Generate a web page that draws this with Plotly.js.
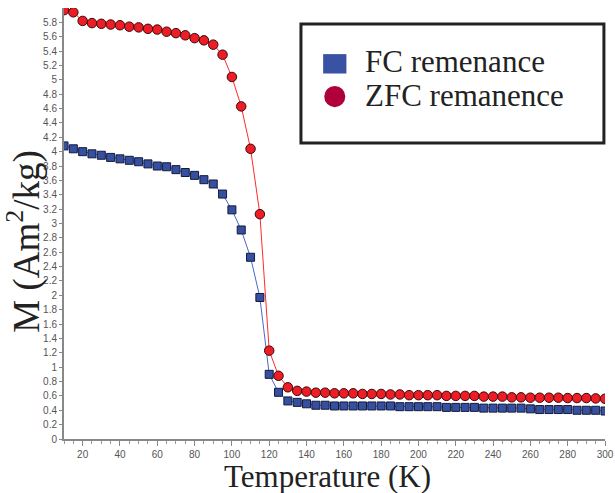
<!DOCTYPE html>
<html>
<head>
<meta charset="utf-8">
<script src="https://cdn.plot.ly/plotly-3.0.1.min.js"></script>
<style>html,body{margin:0;padding:0;background:#fff;}#chart{width:615px;height:493px;}</style>
</head>
<body>
<div id="chart"></div>
<script>
const temperature = [10,15,20,25,30,35,40,45,50,55,60,65,70,75,80,85,90,95,100,105,110,115,120,
  125,130,135,140,145,150,155,160,165,170,175,180,185,190,195,200,205,210,215,220,225,230,235,240,245,250,255,260,265,270,275,280,285,290,295,300];

const fcRemanence = [4.08,4.04,4.00,3.97,3.95,3.92,3.90,3.88,3.86,3.83,3.80,3.79,3.75,3.71,3.67,3.61,3.55,3.41,3.19,2.91,2.53,1.97,0.90,
  0.65,0.53,0.51,0.49,0.47,0.47,0.46,0.46,0.46,0.46,0.46,0.46,0.46,0.45,0.45,0.45,0.45,0.45,0.44,0.44,0.44,0.44,0.43,0.43,0.43,0.43,0.43,0.42,0.41,0.41,0.41,0.41,0.40,0.40,0.40,0.39];

const zfcRemanence = [5.97,5.94,5.82,5.79,5.78,5.77,5.76,5.74,5.73,5.71,5.70,5.67,5.65,5.62,5.58,5.55,5.49,5.35,5.04,4.63,4.04,3.13,1.23,
  0.88,0.72,0.67,0.66,0.645,0.645,0.636,0.636,0.636,0.627,0.627,0.627,0.62,0.62,0.61,0.61,0.61,0.61,0.60,0.60,0.60,0.60,0.59,0.59,0.59,0.58,0.58,0.575,0.575,0.575,0.575,0.57,0.57,0.57,0.565,0.56];

const seriesNames = ["FC remenance", "ZFC remanence"];
const xTitle = "Temperature (K)";
const yTitle = "M (Am<sup>2</sup>/kg)";
const xTickVals = [20,40,60,80,100,120,140,160,180,200,220,240,260,280,300];
const yTickVals = [0,0.2,0.4,0.6,0.8,1,1.2,1.4,1.6,1.8,2,2.2,2.4,2.6,2.8,3,3.2,3.4,3.6,3.8,4,4.2,4.4,4.6,4.8,5,5.2,5.4,5.6,5.8];

const traces = [
  {x: temperature, y: fcRemanence, name: seriesNames[0], type: 'scatter', mode: 'lines+markers',
   line: {color: '#4a68c4', width: 1},
   marker: {symbol: 'square', size: 8, color: '#3550a0', line: {color: '#141a3c', width: 1}}},
  {x: temperature, y: zfcRemanence, name: seriesNames[1], type: 'scatter', mode: 'lines+markers',
   line: {color: '#ff2a2a', width: 1},
   marker: {symbol: 'circle', size: 9.5, color: '#ee1c24', line: {color: '#3a0a0a', width: 1}}}
];

const serif = "'Liberation Serif', 'Times New Roman', serif";
const layout = {
  width: 615, height: 493,
  margin: {l: 64, r: 10, t: 8, b: 54},
  paper_bgcolor: '#fff', plot_bgcolor: '#fff',
  showlegend: false,
  font: {family: "'Liberation Sans', Arial, sans-serif", size: 10, color: '#555'},
  xaxis: {
    range: [10, 300], tickvals: xTickVals, ticks: 'outside', ticklen: 5, tickcolor: '#888', tickwidth: 1,
    minor: {dtick: 5, tick0: 0, ticks: 'outside', ticklen: 3, tickcolor: '#999'},
    showline: true, linecolor: '#888', linewidth: 2, showgrid: false, zeroline: false,
    tickfont: {size: 10, color: '#555'}
  },
  yaxis: {
    range: [0, 6], tickvals: yTickVals, ticks: 'outside', ticklen: 3, tickcolor: '#888', tickwidth: 1,
    showline: true, linecolor: '#888', linewidth: 2, showgrid: false, zeroline: false,
    tickfont: {size: 10, color: '#555'}
  },
  shapes: [
    {type: 'rect', xref: 'paper', yref: 'paper', x0: 0.438, x1: 0.998, y0: 0.687, y1: 0.963,
     line: {color: '#222', width: 3}, fillcolor: '#fff', layer: 'above'},
    {type: 'rect', xref: 'paper', yref: 'paper', x0: 0.479, x1: 0.522, y0: 0.848, y1: 0.893,
     line: {width: 0}, fillcolor: '#3a52a4', layer: 'above'},
    {type: 'circle', xref: 'paper', yref: 'paper', x0: 0.481, x1: 0.520, y0: 0.770, y1: 0.819,
     line: {width: 0}, fillcolor: '#b0003a', layer: 'above'}
  ],
  annotations: [
    {xref: 'paper', yref: 'paper', x: 0.552, y: 0.877, xanchor: 'left', yanchor: 'middle', showarrow: false,
     text: seriesNames[0], font: {family: serif, size: 31, color: '#222'}},
    {xref: 'paper', yref: 'paper', x: 0.552, y: 0.796, xanchor: 'left', yanchor: 'middle', showarrow: false,
     text: seriesNames[1], font: {family: serif, size: 31, color: '#222'}},
    {xref: 'paper', yref: 'paper', x: 0.487, y: -0.086, xanchor: 'center', yanchor: 'middle', showarrow: false,
     text: xTitle, font: {family: serif, size: 31, color: '#222'}},
    {xref: 'paper', yref: 'paper', x: -0.074, y: 0.46, xanchor: 'center', yanchor: 'middle', showarrow: false,
     textangle: -90, text: yTitle, font: {family: serif, size: 37, color: '#222'}}
  ]
};

Plotly.newPlot('chart', traces, layout, {displayModeBar: false, staticPlot: true});
</script>
</body>
</html>
